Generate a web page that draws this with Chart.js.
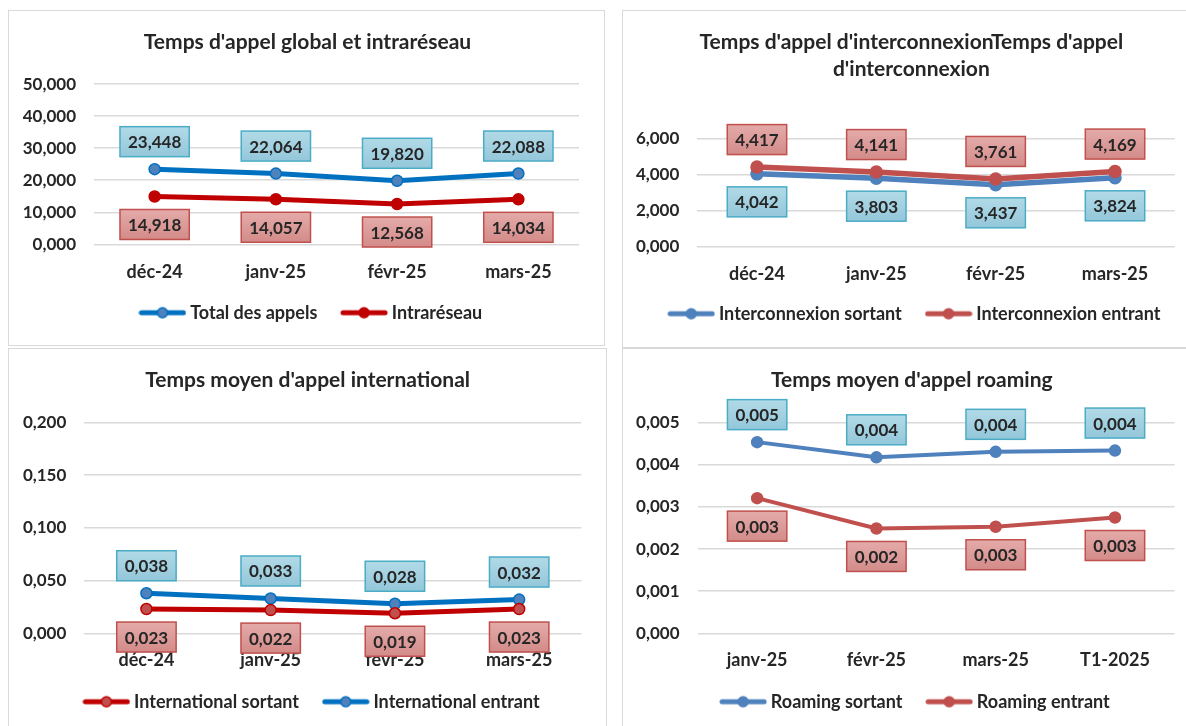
<!DOCTYPE html>
<html lang="fr">
<head>
<meta charset="utf-8">
<title>Temps d'appel</title>
<script src="https://cdn.jsdelivr.net/npm/chart.js@4.4.1/dist/chart.umd.min.js"></script>
<style>
  html, body { margin: 0; padding: 0; background: #fff; }
  body { width: 1186px; height: 726px; position: relative; overflow: hidden; }
  .cadre { position: absolute; border: 1.5px solid #d9d9d9; box-sizing: border-box; }
  .zone { position: absolute; }
</style>
</head>
<body>
<div class="cadre" style="left:8px;top:10px;width:597px;height:336px"></div>
<div class="cadre" style="left:622px;top:10px;width:580px;height:338px"></div>
<div class="cadre" style="left:8px;top:348px;width:599px;height:400px"></div>
<div class="cadre" style="left:622px;top:348px;width:580px;height:400px"></div>

<div class="zone" style="left:10px;top:12px;width:592px;height:332px"><canvas id="global"></canvas></div>
<div class="zone" style="left:625px;top:12px;width:561px;height:334px"><canvas id="interco"></canvas></div>
<div class="zone" style="left:11px;top:350px;width:595px;height:376px"><canvas id="international"></canvas></div>
<div class="zone" style="left:625px;top:350px;width:561px;height:376px"><canvas id="roaming"></canvas></div>

<script>
// Catégories
const moisT1 = ['déc-24', 'janv-25', 'févr-25', 'mars-25'];
const moisRoaming = ['janv-25', 'févr-25', 'mars-25', 'T1-2025'];

// Séries
const totalAppels = [23.448, 22.064, 19.820, 22.088];
const intrareseau = [14.918, 14.057, 12.568, 14.034];
const intercoSortant = [4.042, 3.803, 3.437, 3.824];
const intercoEntrant = [4.417, 4.141, 3.761, 4.169];
const intlSortant = [0.023, 0.022, 0.019, 0.023];
const intlEntrant = [0.038, 0.033, 0.028, 0.032];
const roamingSortant = [0.00454, 0.00418, 0.00431, 0.00434];
const roamingEntrant = [0.00321, 0.00249, 0.00253, 0.00275];

// Graduations de l'axe Y
const gradGlobal = [0, 10, 20, 30, 40, 50];
const gradInterco = [0, 2, 4, 6];
const gradIntl = [0, 0.05, 0.1, 0.15, 0.2];
const gradRoaming = [0, 0.001, 0.002, 0.003, 0.004, 0.005];

const TEXTE = '#262626';
const POLICE = 'Lato, Carlito, sans-serif';
Chart.defaults.font.family = POLICE;
Chart.defaults.color = TEXTE;

// format français : virgule décimale, 3 décimales
function fmt(v) {
  return v.toFixed(3).replace('.', ',');
}

// petite icône "ligne + point" pour la légende
function icone(ligne, fond, bord) {
  const c = document.createElement('canvas');
  c.width = 48; c.height = 14;
  const g = c.getContext('2d');
  g.strokeStyle = ligne; g.lineWidth = 5; g.lineCap = 'round';
  g.beginPath(); g.moveTo(3, 7); g.lineTo(45, 7); g.stroke();
  g.beginPath(); g.arc(24, 7, 5, 0, Math.PI * 2);
  g.fillStyle = fond; g.fill();
  g.lineWidth = 1.5; g.strokeStyle = bord; g.stroke();
  return c;
}

const boiteBleue = { haut: '#B2DAE7', bas: '#93C7DA', bord: '#4BACC6' };
const boiteRouge = { haut: '#E4ABA9', bas: '#D38B89', bord: '#C0504D' };

// étiquettes de valeurs encadrées (au-dessus ou en dessous du point)
const etiquettes = {
  id: 'etiquettes',
  afterDatasetsDraw(chart) {
    const ctx = chart.ctx;
    ctx.save();
    ctx.font = 'bold 17px ' + POLICE;
    ctx.textAlign = 'center';
    ctx.textBaseline = 'middle';
    chart.data.datasets.forEach((ds, i) => {
      chart.getDatasetMeta(i).data.forEach((pt, j) => {
        const txt = fmt(ds.data[j]);
        const w = ctx.measureText(txt).width + 16;
        const h = 30;
        const cy = ds.etiquette === 'haut' ? pt.y - 27.5 : pt.y + 28;
        const x = pt.x - w / 2, y = cy - h / 2;
        const grad = ctx.createLinearGradient(0, y, 0, y + h);
        grad.addColorStop(0, ds.boite.haut);
        grad.addColorStop(1, ds.boite.bas);
        ctx.fillStyle = grad;
        ctx.fillRect(x, y, w, h);
        ctx.lineWidth = 1.5;
        ctx.strokeStyle = ds.boite.bord;
        ctx.strokeRect(x, y, w, h);
        ctx.fillStyle = TEXTE;
        ctx.fillText(txt, pt.x, cy + 1);
      });
    });
    ctx.restore();
  }
};

// décale titre et légende après la mise en page (centrage comme dans Excel)
const decalage = {
  id: 'decalage',
  afterLayout(chart, args, o) {
    const t = chart.titleBlock, l = chart.legend;
    t.left += o.titre; t.right += o.titre;
    l.left += o.legende; l.right += o.legende;
    l.top += o.vertical; l.bottom += o.vertical;
  }
};

function graphique(id, titre, categories, graduations, series, m) {
  return new Chart(document.getElementById(id), {
    type: 'line',
    data: {
      labels: categories,
      datasets: series.map(s => ({
        label: s.nom,
        data: s.valeurs,
        borderColor: s.ligne,
        backgroundColor: s.fond,
        pointBackgroundColor: s.fond,
        pointBorderColor: s.bord,
        pointBorderWidth: 1.5,
        pointRadius: m.rayon,
        borderWidth: m.epaisseur,
        tension: 0,
        order: s.ordre || 0,
        etiquette: s.etiquette,
        boite: s.boite,
        icone: icone(s.ligne, s.fond, s.bord)
      }))
    },
    options: {
      responsive: true,
      maintainAspectRatio: false,
      animation: false,
      layout: { padding: { left: 0, right: m.padD, top: 0, bottom: m.padB } },
      plugins: {
        title: {
          display: true,
          text: titre,
          color: TEXTE,
          font: { size: 21, weight: 'bold', lineHeight: 1.27 },
          padding: { top: m.titreH, bottom: m.titreB }
        },
        legend: {
          position: 'bottom',
          labels: {
            usePointStyle: true,
            pointStyleWidth: 37.4,
            padding: 28,
            color: TEXTE,
            font: { size: 18, weight: 'bold' },
            sort: (a, b) => a.datasetIndex - b.datasetIndex,
            generateLabels: chart => Chart.defaults.plugins.legend.labels.generateLabels(chart)
              .map(it => Object.assign(it, { pointStyle: chart.data.datasets[it.datasetIndex].icone }))
          }
        },
        decalage: m.decalage,
        tooltip: { enabled: false }
      },
      scales: {
        x: {
          offset: true,
          grid: { display: false },
          border: { display: false },
          ticks: { padding: m.padX, maxRotation: 0, color: TEXTE, font: { size: 18, weight: 'bold' } },
          afterFit: s => { s.height = m.padX + 28; }
        },
        y: {
          min: graduations[0],
          max: graduations[graduations.length - 1],
          grid: { color: '#d9d9d9', lineWidth: 1.5, drawTicks: false },
          border: { display: false },
          ticks: { padding: 18, color: TEXTE, font: { size: 17, weight: 'bold' }, callback: v => fmt(v) },
          afterBuildTicks: s => { s.ticks = graduations.map(v => ({ value: v })); },
          afterFit: s => { s.width = m.largY; }
        }
      }
    },
    plugins: [etiquettes, decalage]
  });
}

graphique('global', "Temps d'appel global et intraréseau", moisT1, gradGlobal, [
  { nom: 'Total des appels', valeurs: totalAppels, ligne: '#0070C0', fond: '#4F81BD', bord: '#0070C0', etiquette: 'haut', boite: boiteBleue },
  { nom: 'Intraréseau', valeurs: intrareseau, ligne: '#C00000', fond: '#C00000', bord: '#C00000', etiquette: 'bas', boite: boiteRouge }
], { padD: 23, padB: 6.8, largY: 84, titreH: 17, titreB: 28.4, padX: 8.9, rayon: 5.5, epaisseur: 5,
     decalage: { titre: 13, legende: 18.5, vertical: -5.5 } });

graphique('interco', ["Temps d'appel d'interconnexionTemps d'appel", "d'interconnexion"], moisT1, gradInterco, [
  { nom: 'Interconnexion sortant', valeurs: intercoSortant, ligne: '#4F81BD', fond: '#4F81BD', bord: '#4F81BD', etiquette: 'bas', boite: boiteBleue, ordre: 1 },
  { nom: 'Interconnexion entrant', valeurs: intercoEntrant, ligne: '#C0504D', fond: '#C0504D', bord: '#C0504D', etiquette: 'haut', boite: boiteRouge, ordre: 0 }
], { padD: 11.3, padB: 6.5, largY: 72.3, titreH: 17, titreB: 56.1, padX: 8.5, rayon: 6, epaisseur: 5.5,
     decalage: { titre: 11.5, legende: 16.6, vertical: -6.8 } });

graphique('international', "Temps moyen d'appel international", moisT1, gradIntl, [
  { nom: 'International sortant', valeurs: intlSortant, ligne: '#C00000', fond: '#C0504D', bord: '#C00000', etiquette: 'bas', boite: boiteRouge },
  { nom: 'International entrant', valeurs: intlEntrant, ligne: '#0070C0', fond: '#4F81BD', bord: '#0070C0', etiquette: 'haut', boite: boiteBleue }
], { padD: 24.7, padB: 1.1, largY: 73.3, titreH: 16.7, titreB: 29, padX: 7.6, rayon: 5.5, epaisseur: 5,
     decalage: { titre: 11.5, legende: 17.5, vertical: -4.2 } });

graphique('roaming', "Temps moyen d'appel roaming", moisRoaming, gradRoaming, [
  { nom: 'Roaming sortant', valeurs: roamingSortant, ligne: '#4F81BD', fond: '#4F81BD', bord: '#4F81BD', etiquette: 'haut', boite: boiteBleue },
  { nom: 'Roaming entrant', valeurs: roamingEntrant, ligne: '#C0504D', fond: '#C0504D', bord: '#C0504D', etiquette: 'bas', boite: boiteRouge }
], { padD: 11.4, padB: 1.1, largY: 72.5, titreH: 16.7, titreB: 29.4, padX: 7.6, rayon: 5.5, epaisseur: 4,
     decalage: { titre: 12, legende: 17.3, vertical: -4.2 } });
</script>
</body>
</html>
